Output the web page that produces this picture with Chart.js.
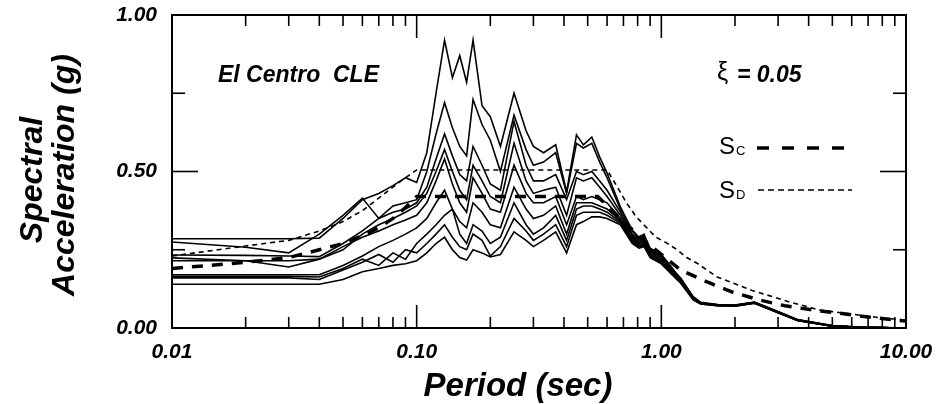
<!DOCTYPE html>
<html><head><meta charset="utf-8">
<script src="https://cdn.jsdelivr.net/npm/chart.js@4.4.1/dist/chart.umd.min.js"></script>
<style>html,body{margin:0;padding:0;background:#fff;}canvas{display:block;}</style>
</head><body>
<canvas id="c" width="941" height="404"></canvas>
<script>
// Periods (sec) shared by the recorded spectra
const periods = [0.01,0.02,0.03,0.04,0.05,0.06,0.07,0.08,0.09,0.10,
  0.11,0.12,0.13,0.14,0.15,0.16,0.17,0.185,0.20,0.22,
  0.25,0.28,0.30,0.33,0.37,0.41,0.45,0.48,0.52,0.56,
  0.60,0.68,0.76,0.81,0.85,0.90,1.0,1.1,1.2,1.35,
  1.45,1.7,2.0,2.4,2.7,3.6,5.0,6.5,10.0];

// Spectral acceleration (g) of each record
const record1 = [0.285,0.285,0.285,0.287,0.35,0.41,0.43,0.455,0.48,0.465, 0.56,0.75,0.92,0.80,0.87,0.785,0.92,0.71,0.675,0.58, 0.75,0.63,0.58,0.56,0.585,0.435,0.617,0.585,0.61,0.546, 0.495,0.387,0.313,0.29,0.30,0.25,0.227,0.19,0.16,0.10, 0.082,0.075,0.073,0.083,0.067,0.027,0.008,0.003,0.0];
const record2 = [0.275,0.258,0.24,0.30,0.36,0.415,0.35,0.39,0.40,0.41, 0.50,0.62,0.72,0.64,0.58,0.55,0.73,0.65,0.60,0.50, 0.68,0.57,0.52,0.53,0.56,0.43,0.59,0.575,0.59,0.53, 0.48,0.38,0.31,0.285,0.295,0.255,0.235,0.195,0.155,0.098, 0.08,0.074,0.072,0.082,0.066,0.026,0.007,0.002,0.0];
const record3 = [0.233,0.232,0.23,0.228,0.27,0.31,0.35,0.37,0.38,0.40, 0.45,0.54,0.62,0.55,0.49,0.47,0.58,0.52,0.46,0.44, 0.66,0.52,0.47,0.47,0.49,0.41,0.50,0.49,0.50,0.47, 0.44,0.37,0.30,0.28,0.29,0.25,0.23,0.19,0.155,0.096, 0.08,0.074,0.073,0.082,0.066,0.026,0.007,0.002,0.0];
const record4 = [0.224,0.215,0.195,0.22,0.25,0.30,0.33,0.35,0.37,0.39, 0.43,0.50,0.57,0.50,0.44,0.41,0.52,0.47,0.42,0.40, 0.59,0.47,0.43,0.44,0.45,0.36,0.48,0.47,0.48,0.45, 0.42,0.36,0.295,0.275,0.285,0.245,0.225,0.185,0.15,0.095, 0.079,0.073,0.072,0.081,0.065,0.025,0.007,0.002,0.0];
const record5 = [0.215,0.215,0.215,0.22,0.26,0.29,0.31,0.33,0.345,0.36, 0.40,0.47,0.54,0.46,0.40,0.37,0.48,0.43,0.38,0.37, 0.52,0.43,0.40,0.40,0.42,0.33,0.42,0.41,0.42,0.41, 0.40,0.35,0.29,0.27,0.28,0.24,0.22,0.18,0.15,0.094, 0.079,0.073,0.072,0.081,0.065,0.025,0.006,0.002,0.0];
const record6 = [0.17,0.17,0.17,0.17,0.20,0.23,0.26,0.28,0.30,0.32, 0.35,0.40,0.44,0.38,0.34,0.32,0.40,0.37,0.33,0.32, 0.45,0.38,0.35,0.36,0.39,0.30,0.40,0.40,0.40,0.39, 0.38,0.345,0.285,0.265,0.275,0.235,0.215,0.18,0.148,0.093, 0.078,0.072,0.071,0.08,0.064,0.025,0.006,0.002,0.0];
const record7 = [0.165,0.165,0.165,0.163,0.19,0.22,0.20,0.24,0.22,0.27, 0.30,0.33,0.36,0.38,0.30,0.27,0.33,0.31,0.27,0.29, 0.40,0.33,0.30,0.32,0.36,0.28,0.38,0.39,0.39,0.38, 0.37,0.34,0.28,0.26,0.27,0.23,0.21,0.178,0.146,0.092, 0.078,0.072,0.071,0.08,0.064,0.024,0.006,0.002,0.0];
const record8 = [0.16,0.16,0.16,0.155,0.185,0.21,0.235,0.21,0.25,0.24, 0.27,0.30,0.33,0.29,0.26,0.25,0.30,0.28,0.23,0.26, 0.35,0.31,0.28,0.30,0.33,0.26,0.36,0.37,0.37,0.37, 0.36,0.335,0.275,0.258,0.265,0.228,0.208,0.175,0.145,0.091, 0.077,0.071,0.07,0.079,0.063,0.024,0.006,0.002,0.0];
const record9 = [0.14,0.14,0.14,0.14,0.155,0.18,0.19,0.20,0.205,0.215, 0.24,0.27,0.29,0.25,0.225,0.217,0.25,0.24,0.227,0.235, 0.307,0.28,0.26,0.28,0.307,0.24,0.33,0.34,0.355,0.355, 0.35,0.33,0.27,0.255,0.26,0.225,0.205,0.172,0.143,0.09, 0.077,0.071,0.07,0.079,0.063,0.024,0.006,0.002,0.0];

// Design spectra
const scPeriods = [0.01,0.02,0.03,0.04,0.05,0.06,0.07,0.08,0.09,0.10,0.55,0.7,0.85,1.0,1.2,1.54,1.95,2.5,3.2,4.2,5.3,7.0,10.0];
const scValues  = [0.19,0.21,0.225,0.25,0.27,0.295,0.32,0.35,0.385,0.42,0.42,0.34,0.28,0.235,0.185,0.147,0.115,0.09,0.071,0.057,0.048,0.035,0.022];
const sdPeriods = [0.01,0.02,0.03,0.04,0.05,0.06,0.07,0.08,0.09,0.10,0.60,0.65,0.72,0.79,0.95,1.05,1.16,1.27,1.4,1.69,2.35,3.35,4.45,5.9,8.0,10.0];
const sdValues  = [0.23,0.262,0.28,0.31,0.34,0.375,0.415,0.45,0.48,0.505,0.505,0.46,0.40,0.355,0.29,0.272,0.25,0.225,0.207,0.163,0.12,0.083,0.057,0.045,0.032,0.025];

// Tick labels / positions
const xTickValues = [0.01, 0.1, 1, 10];
const yTickValues = [0, 0.5, 1];
const xMinorValues = [0.02,0.03,0.04,0.05,0.06,0.07,0.08,0.09,0.2,0.3,0.4,0.5,0.6,0.7,0.8,0.9,2,3,4,5,6,7,8,9];
const yMinorValues = [0.25, 0.75];

const records = [record1,record2,record3,record4,record5,record6,record7,record8,record9];
const FAM = '"Liberation Sans", Arial, Helvetica, sans-serif';

function pts(xs, ys){ return xs.map((x,i)=>({x:x, y:ys[i]})); }

const datasets = records.map(r => ({data: pts(periods, r), borderColor:'#000', borderWidth:1.6, pointRadius:0, tension:0, fill:false}));
datasets.push({label:'SC', data: pts(scPeriods, scValues), borderColor:'#000', borderWidth:3.5, borderDash:[11,9], pointRadius:0, fill:false});
datasets.push({label:'SD', data: pts(sdPeriods, sdValues), borderColor:'#000', borderWidth:1.6, borderDash:[5,4], pointRadius:0, fill:false});

const decor = {
  id:'decor',
  afterDraw(chart){
    const ctx = chart.ctx, a = chart.chartArea, x = chart.scales.x, y = chart.scales.y;
    ctx.save();
    ctx.strokeStyle = '#000';
    function seg(x1,y1,x2,y2){ ctx.beginPath(); ctx.moveTo(x1,y1); ctx.lineTo(x2,y2); ctx.stroke(); }
    ctx.lineWidth = 2;
    ctx.strokeRect(a.left, a.top, a.right-a.left, a.bottom-a.top);
    ctx.lineWidth = 1.6;
    xMinorValues.forEach(v => { const p = x.getPixelForValue(v); seg(p,a.bottom,p,a.bottom-11); seg(p,a.top,p,a.top+11); });
    xTickValues.forEach(v => { const p = x.getPixelForValue(v); seg(p,a.bottom,p,a.bottom-23); seg(p,a.top,p,a.top+23); });
    yMinorValues.forEach(v => { const p = y.getPixelForValue(v); seg(a.left,p,a.left+13,p); seg(a.right,p,a.right-13,p); });
    yTickValues.forEach(v => { const p = y.getPixelForValue(v); seg(a.left,p,a.left+26,p); seg(a.right,p,a.right-26,p); });

    ctx.fillStyle = '#000';
    // axis titles
    ctx.font = 'italic bold 33px ' + FAM;
    ctx.textAlign = 'center'; ctx.textBaseline = 'alphabetic';
    ctx.fillText('Period (sec)', 518, 396);
    ctx.save();
    ctx.rotate(-Math.PI/2);
    ctx.font = 'italic bold 32px ' + FAM;
    ctx.fillText('Spectral', -180, 42);
    ctx.fillText('Acceleration (g)', -175, 74);
    ctx.restore();

    // annotations
    ctx.textAlign = 'left';
    ctx.font = 'italic bold 23px ' + FAM;
    ctx.fillText('El Centro  CLE', 218, 82);
    ctx.font = '25px ' + FAM;
    ctx.fillText('\u03BE', 717, 80);
    ctx.font = 'italic bold 23px ' + FAM;
    ctx.fillText('= 0.05', 737, 82);

    // legend
    ctx.font = '24px ' + FAM;
    ctx.fillText('S', 719, 154);
    ctx.fillText('S', 719, 198);
    ctx.font = '13px ' + FAM;
    ctx.fillText('C', 736, 155);
    ctx.fillText('D', 736, 199);
    ctx.lineWidth = 3.5; ctx.setLineDash([12,13]);
    seg(757,148,850,148);
    ctx.lineWidth = 1.6; ctx.setLineDash([6,4]);
    seg(758,190,852,190);
    ctx.restore();
  }
};

new Chart(document.getElementById('c'), {
  type: 'line',
  data: { datasets: datasets },
  options: {
    responsive:false, animation:false, devicePixelRatio:1,
    layout:{ padding:{ top:15, right:35, left:0, bottom:0 } },
    plugins:{ legend:{display:false}, tooltip:{enabled:false} },
    scales:{
      x:{
        type:'logarithmic', min:0.01, max:10,
        grid:{display:false, drawTicks:false}, border:{display:false},
        afterBuildTicks(s){ s.ticks = xTickValues.map(v=>({value:v})); },
        afterFit(s){ s.height = 76; s.paddingLeft = 0; s.paddingRight = 0; },
        ticks:{ autoSkip:false, maxRotation:0, padding:12, color:'#000',
          font:{family:FAM, size:21, weight:'bold', style:'italic'},
          callback:(v)=>Number(v).toFixed(2) }
      },
      y:{
        type:'linear', min:0, max:1,
        grid:{display:false, drawTicks:false}, border:{display:false},
        afterBuildTicks(s){ s.ticks = yTickValues.map(v=>({value:v})); },
        afterFit(s){ s.width = 172; s.paddingTop = 0; s.paddingBottom = 0; },
        ticks:{ padding:15, color:'#000',
          font:{family:FAM, size:21, weight:'bold', style:'italic'},
          callback:(v)=>Number(v).toFixed(2) }
      }
    }
  },
  plugins:[decor]
});
</script>
</body></html>
